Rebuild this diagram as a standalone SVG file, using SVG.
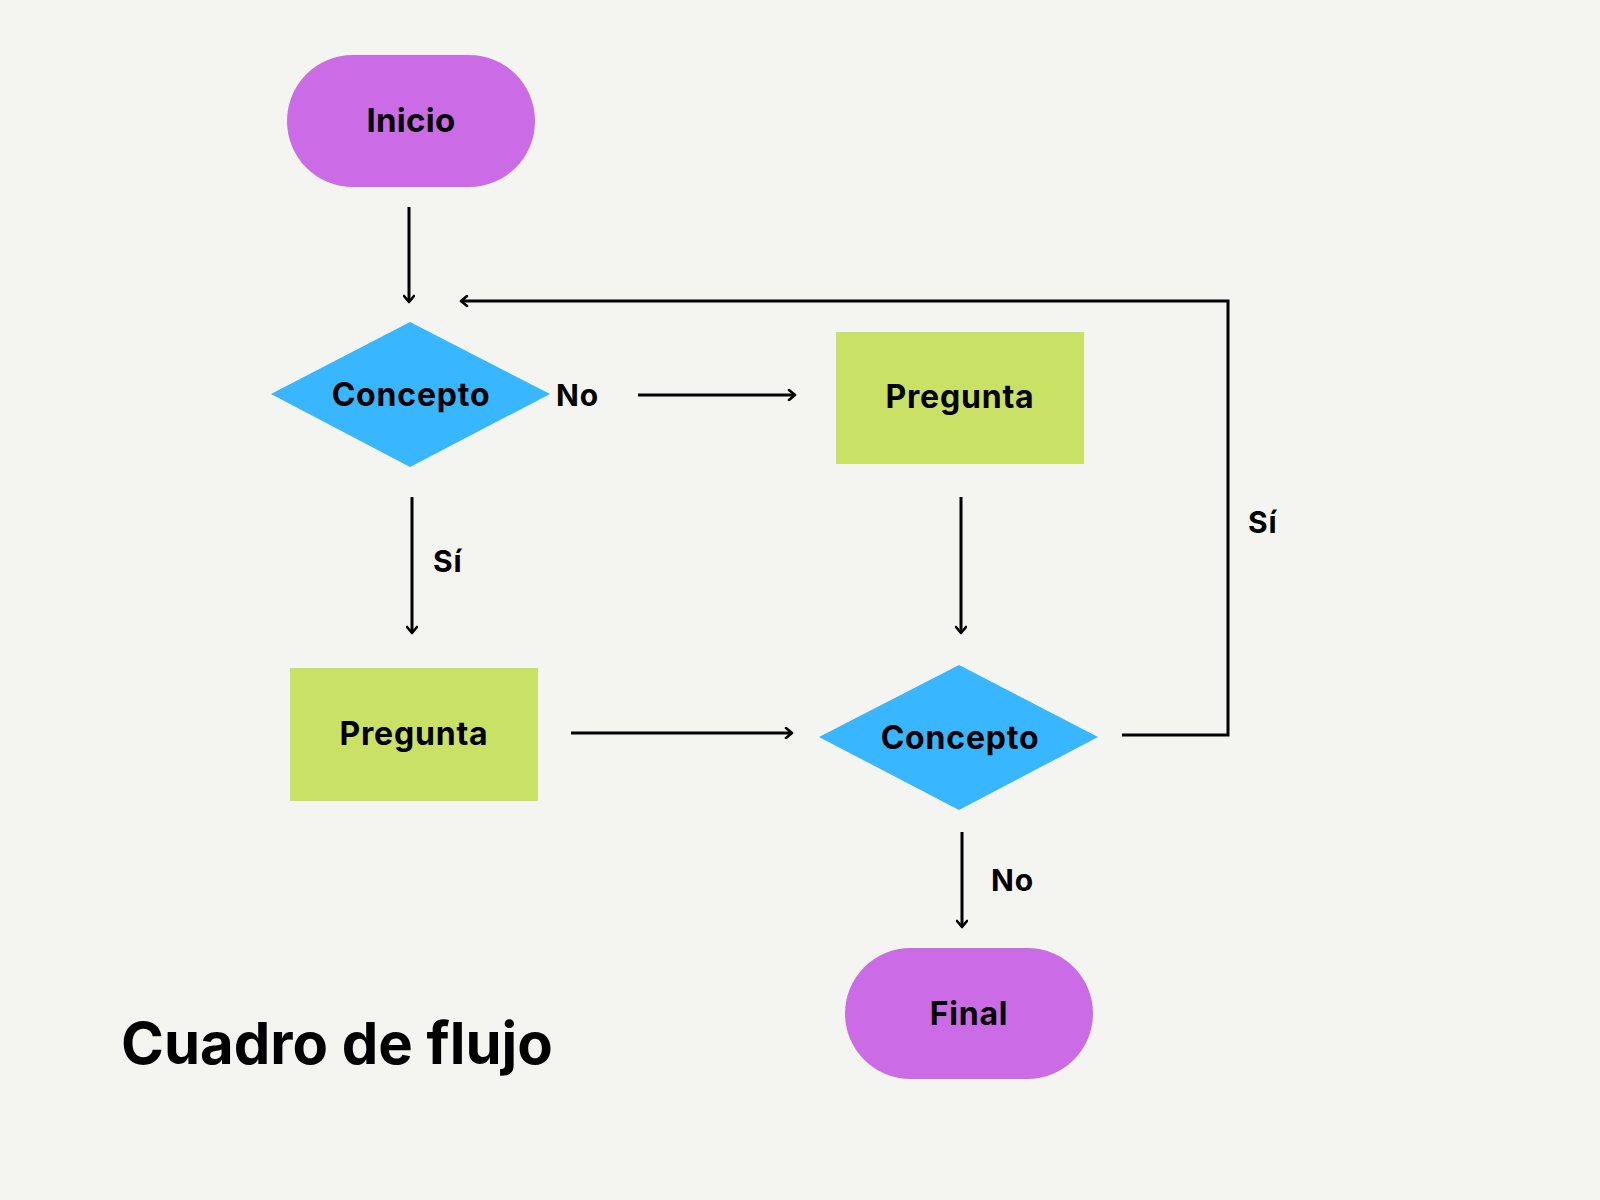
<svg xmlns="http://www.w3.org/2000/svg" width="1600" height="1200" viewBox="0 0 1600 1200">
<style>
.bg{fill:#F4F5F0}
.term{fill:#CB6CE6}
.dec{fill:#38B6FF}
.proc{fill:#C9E265}
.t{font-family:Inter,"DejaVu Sans",sans-serif;font-weight:700;fill:#000;text-anchor:middle;font-size:32px;letter-spacing:0.8px}
.lbl{font-family:Inter,"DejaVu Sans",sans-serif;font-weight:700;fill:#000;font-size:30px;letter-spacing:0.8px}
.c{fill:none;stroke:#000;stroke-width:3}
</style>
<defs>
<marker id="ah" viewBox="0 0 10 12" refX="8" refY="6" markerWidth="10" markerHeight="12" markerUnits="userSpaceOnUse" orient="auto">
<path d="M2,1 L8,6 L2,11" fill="none" stroke="#000" stroke-width="2.6" stroke-linecap="round" stroke-linejoin="round"/>
</marker>
</defs>
<rect class="bg" width="1600" height="1200"/>
<g id="connectors">
<line class="c" x1="409" y1="207" x2="409" y2="302" marker-end="url(#ah)"/>
<line class="c" x1="638" y1="395" x2="795" y2="395" marker-end="url(#ah)"/>
<line class="c" x1="412" y1="497" x2="412" y2="633" marker-end="url(#ah)"/>
<line class="c" x1="961" y1="497" x2="961" y2="633" marker-end="url(#ah)"/>
<line class="c" x1="571" y1="733" x2="792" y2="733" marker-end="url(#ah)"/>
<line class="c" x1="962" y1="832" x2="962" y2="927" marker-end="url(#ah)"/>
<polyline class="c" points="1122,735 1228,735 1228,301 461,301" marker-end="url(#ah)"/>
<text class="lbl" x="556" y="406">No</text>
<text class="lbl" x="433" y="572">Sí</text>
<text class="lbl" x="1248" y="533">Sí</text>
<text class="lbl" x="991" y="891">No</text>
</g>
<g id="inicio">
<rect class="term" x="287" y="55" width="248" height="132" rx="66"/>
<text class="t" x="411" y="132" style="font-size:33px;letter-spacing:0.3px">Inicio</text>
</g>
<g id="concepto1">
<polygon class="dec" points="410,322 550,394 410,467 271,394"/>
<text class="t" x="411" y="406">Concepto</text>
</g>
<g id="pregunta1">
<rect class="proc" x="836" y="332" width="248" height="132"/>
<text class="t" x="960" y="408">Pregunta</text>
</g>
<g id="pregunta2">
<rect class="proc" x="290" y="668" width="248" height="133"/>
<text class="t" x="414" y="745">Pregunta</text>
</g>
<g id="concepto2">
<polygon class="dec" points="959,665 1098,737 959,810 819,737"/>
<text class="t" x="960" y="749">Concepto</text>
</g>
<g id="final">
<rect class="term" x="845" y="948" width="248" height="131" rx="65.5"/>
<text class="t" x="969" y="1025">Final</text>
</g>
<text class="lbl" x="121" y="1064" style="font-size:58px;letter-spacing:0">Cuadro de flujo</text>
</svg>
